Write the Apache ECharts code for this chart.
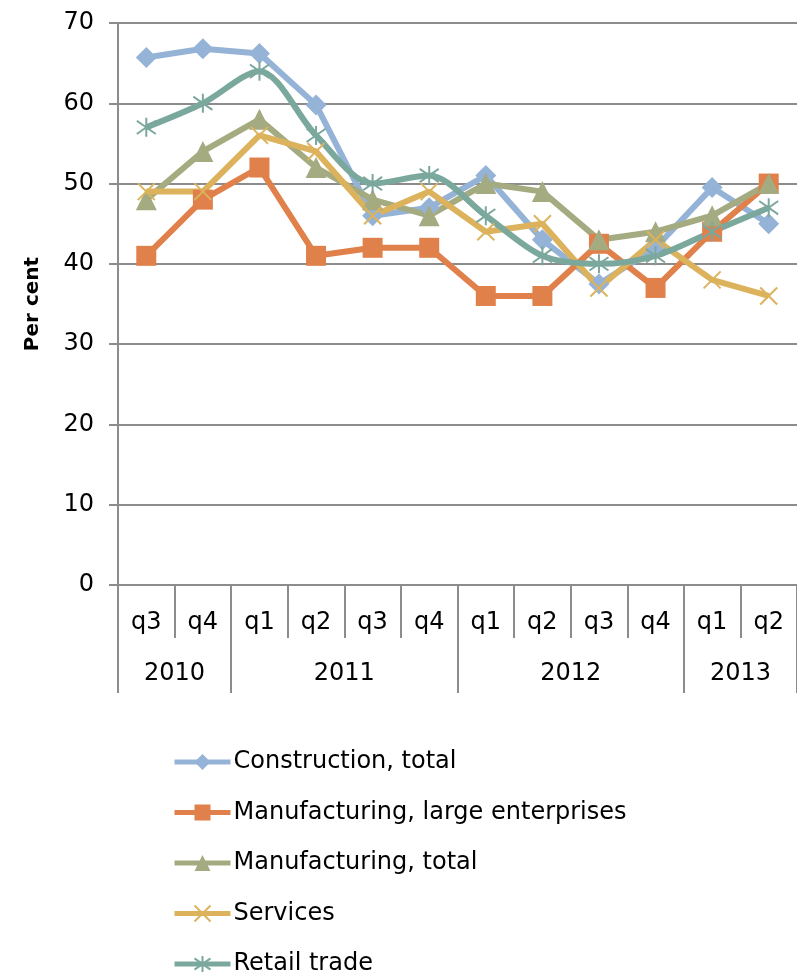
<!DOCTYPE html>
<html>
<head>
<meta charset="utf-8">
<script src="https://cdn.jsdelivr.net/npm/echarts@6/dist/echarts.min.js"></script>
<style>
  html, body { margin: 0; padding: 0; background: #fff; }
  #chart { width: 797px; height: 974px; }
</style>
</head>
<body>
<div id="chart"></div>
<script>
// Quarterly survey shares, per cent
const quarters = ['q3', 'q4', 'q1', 'q2', 'q3', 'q4', 'q1', 'q2', 'q3', 'q4', 'q1', 'q2'];
const years = ['2010', '2011', '2012', '2013'];
const yearBounds = [0, 2, 6, 10, 12];      // category index where each year starts / ends
const yearCentres = [1, 4, 8, 11];

const construction = [65.7, 66.8, 66.2, 59.8, 46, 47, 51, 43, 37.5, 42, 49.5, 45];
const manufLarge   = [41, 48, 52, 41, 42, 42, 36, 36, 42.5, 37, 44, 50];
const manufTotal   = [48, 54, 58, 52, 48, 46, 50, 49, 43, 44, 46, 50];
const services     = [49, 49, 56, 54, 46, 49, 44, 45, 37, 43, 38, 36];
const retail       = [57, 60, 64, 56, 50, 51, 46, 41, 40, 41, 44, 47];

const yTicks = { min: 0, max: 70, step: 10 };

const FONT = 'DejaVu Sans';
const AXIS_GREY = '#8c8c8c';

const xMark = 'path://M0,0 L10,10 M10,0 L0,10';
const starMark = 'path://M5,0 L5,10 M0,1.5 L10,8.5 M10,1.5 L0,8.5';

function lineSeries(name, data, color, symbol, size, extra) {
  const strokeOnly = symbol.startsWith('path://');
  return Object.assign({
    name: name,
    type: 'line',
    data: data,
    symbol: symbol,
    symbolSize: size,
    lineStyle: { color: color, width: 6 },
    itemStyle: strokeOnly
      ? { color: 'rgba(0,0,0,0)', borderColor: color, borderWidth: 2 }
      : { color: color, borderColor: color, borderWidth: 0 },
    emphasis: { disabled: true },
    animation: false
  }, extra || {});
}

const chart = echarts.init(document.getElementById('chart'), null, { renderer: 'canvas' });

chart.setOption({
  backgroundColor: '#ffffff',
  textStyle: { fontFamily: FONT },
  grid: { left: 118, right: 0, top: 23, bottom: 389, containLabel: false },
  legend: {
    orient: 'vertical',
    left: 172,
    top: 750,
    width: 600,
    height: 320,
    padding: 0,
    itemWidth: 56,
    itemHeight: 20,
    itemGap: 26.5,
    lineStyle: { width: 5 },
    textStyle: { fontFamily: FONT, fontSize: 24, lineHeight: 20, color: '#000', padding: [0, 0, 0, -2] },
    data: ['Construction, total', 'Manufacturing, large enterprises', 'Manufacturing, total', 'Services', 'Retail trade']
  },
  xAxis: [
    {
      type: 'category',
      data: quarters,
      boundaryGap: true,
      position: 'bottom',
      axisLine: { lineStyle: { color: AXIS_GREY, width: 2 } },
      axisTick: { show: true, interval: 0, length: 53, lineStyle: { color: AXIS_GREY, width: 2 } },
      axisLabel: { interval: 0, margin: 26, fontFamily: FONT, fontSize: 24, color: '#000' }
    },
    {
      type: 'value',
      min: 0,
      max: 12,
      position: 'bottom',
      axisLine: { show: false },
      splitLine: { show: false },
      axisTick: {
        show: true,
        length: 108,
        customValues: yearBounds,
        lineStyle: { color: AXIS_GREY, width: 2 }
      },
      axisLabel: {
        margin: 77,
        customValues: yearCentres,
        formatter: function (v) { return years[yearCentres.indexOf(v)]; },
        fontFamily: FONT, fontSize: 24, color: '#000'
      }
    }
  ],
  yAxis: {
    type: 'value',
    min: yTicks.min,
    max: yTicks.max,
    interval: yTicks.step,
    name: 'Per cent',
    nameLocation: 'middle',
    nameGap: 75,
    nameRotate: 90,
    nameTextStyle: { fontFamily: FONT, fontSize: 20, fontWeight: 'bold', color: '#000' },
    axisLine: { show: true, lineStyle: { color: AXIS_GREY, width: 2 } },
    axisTick: { show: true, inside: false, length: 9, lineStyle: { color: AXIS_GREY, width: 2 } },
    axisLabel: { margin: 24, fontFamily: FONT, fontSize: 24, color: '#000' },
    splitLine: { show: true, lineStyle: { color: AXIS_GREY, width: 2 } }
  },
  series: [
    lineSeries('Construction, total', construction, '#95b3d7', 'diamond', 21),
    lineSeries('Manufacturing, large enterprises', manufLarge, '#e0804a', 'rect', 20),
    lineSeries('Manufacturing, total', manufTotal, '#a5ab81', 'triangle', 21),
    lineSeries('Services', services, '#dcb35c', xMark, 17),
    lineSeries('Retail trade', retail, '#7ba89d', starMark, 19, { smooth: 0.3 })
  ]
});
</script>
</body>
</html>
